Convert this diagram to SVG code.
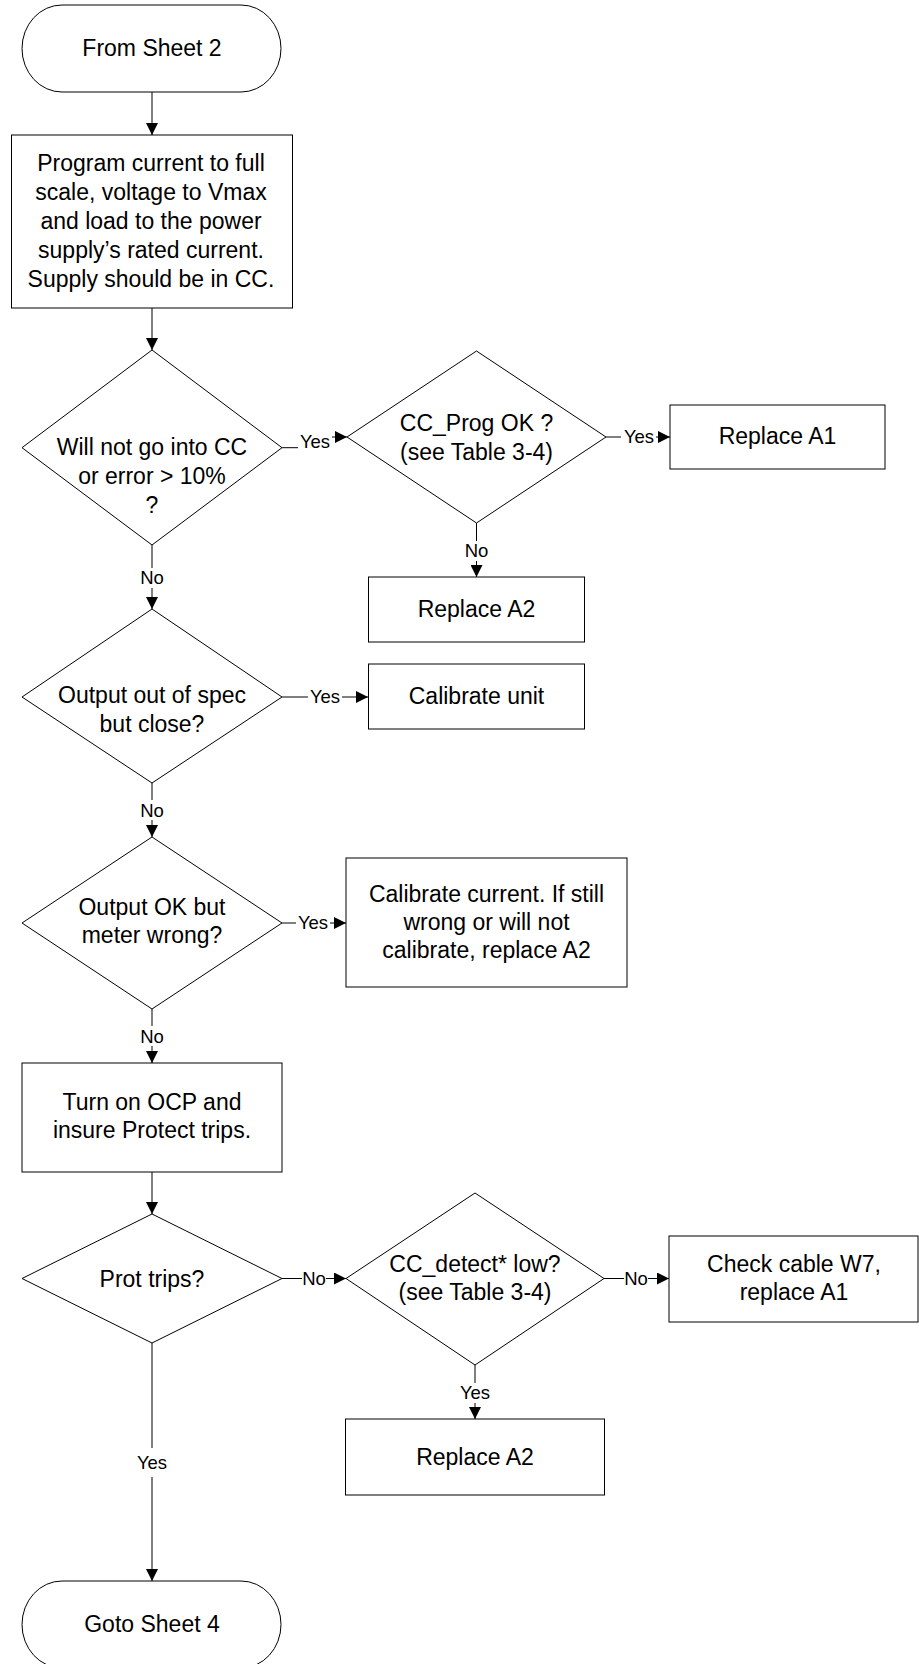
<svg xmlns="http://www.w3.org/2000/svg" width="919" height="1664" viewBox="0 0 919 1664">
<style>
.s{fill:#fff;stroke:#000;stroke-width:1}
.t{font-family:"Liberation Sans",Arial,sans-serif;font-size:23px;text-anchor:middle;fill:#000}
.l{font-family:"Liberation Sans",Arial,sans-serif;font-size:18.5px;text-anchor:middle;fill:#000}
.c{fill:none;stroke:#000;stroke-width:1;marker-end:url(#a)}
.bg{fill:#fff;stroke:none}
</style>
<defs>
<marker id="a" markerUnits="userSpaceOnUse" markerWidth="12" markerHeight="12" refX="12" refY="6" orient="auto">
<path d="M0,0 L12,6 L0,12 z" fill="#000"/>
</marker>
</defs>
<rect width="919" height="1664" fill="#fff"/>
<g id="connectors">
<path class="c" d="M152,92 V135"/>
<path class="c" d="M152,308 V350"/>
<path class="c" d="M282,447.7 H315 V437 H347"/>
<path class="c" d="M606,437 H670"/>
<path class="c" d="M476.5,523 V577"/>
<path class="c" d="M152,545 V609"/>
<path class="c" d="M282,697 H368"/>
<path class="c" d="M152,783 V837"/>
<path class="c" d="M282,923 H346"/>
<path class="c" d="M152,1009 V1063"/>
<path class="c" d="M152,1172 V1214"/>
<path class="c" d="M282,1278.5 H346"/>
<path class="c" d="M604,1278.5 H669"/>
<path class="c" d="M475,1365 V1419"/>
<path class="c" d="M152,1343 V1581"/>
<rect class="bg" x="298" y="432" width="34" height="19"/><text class="l" x="315" y="448">Yes</text>
<rect class="bg" x="621" y="428" width="35" height="19"/><text class="l" x="639" y="443.3">Yes</text>
<rect class="bg" x="465" y="541" width="23" height="20"/><text class="l" x="476.5" y="557.3">No</text>
<rect class="bg" x="141" y="568" width="23" height="20"/><text class="l" x="152" y="584">No</text>
<rect class="bg" x="308" y="687" width="34" height="19"/><text class="l" x="325" y="702.7">Yes</text>
<rect class="bg" x="141" y="800" width="23" height="20"/><text class="l" x="152" y="816.7">No</text>
<rect class="bg" x="296" y="913" width="34" height="19"/><text class="l" x="313" y="929.3">Yes</text>
<rect class="bg" x="141" y="1026" width="23" height="20"/><text class="l" x="152" y="1042.7">No</text>
<rect class="bg" x="302" y="1269" width="24" height="20"/><text class="l" x="314" y="1285">No</text>
<rect class="bg" x="624" y="1269" width="24" height="20"/><text class="l" x="636" y="1285">No</text>
<rect class="bg" x="458" y="1383" width="34" height="20"/><text class="l" x="475" y="1399.3">Yes</text>
<rect class="bg" x="134" y="1448" width="36" height="29"/><text class="l" x="152" y="1469">Yes</text>
</g>
<g id="start">
<rect class="s" x="22" y="5" width="259" height="87" rx="40" ry="43.5"/>
<text class="t" x="152" y="55.7">From Sheet 2</text>
</g>
<g id="program">
<rect class="s" x="11.5" y="135" width="281" height="173"/>
<text class="t" x="151" y="170.7">Program current to full</text>
<text class="t" x="151" y="199.7">scale, voltage to Vmax</text>
<text class="t" x="151" y="228.7">and load to the power</text>
<text class="t" x="151" y="257.7">supply’s rated current.</text>
<text class="t" x="151" y="286.7">Supply should be in CC.</text>
</g>
<g id="d1">
<polygon class="s" points="152,350 282,447.7 152,545 22,447.7"/>
<text class="t" x="152" y="455">Will not go into CC</text>
<text class="t" x="152" y="484">or error &gt; 10%</text>
<text class="t" x="152" y="512.7">?</text>
</g>
<g id="d2">
<polygon class="s" points="476.5,351 606,437 476.5,523 347,437"/>
<text class="t" x="476.5" y="431">CC_Prog OK ?</text>
<text class="t" x="476.5" y="459.5">(see Table 3-4)</text>
</g>
<g id="replaceA1">
<rect class="s" x="670" y="405" width="215" height="64"/>
<text class="t" x="777.5" y="444">Replace A1</text>
</g>
<g id="replaceA2a">
<rect class="s" x="368.5" y="577" width="216" height="65"/>
<text class="t" x="476.5" y="617">Replace A2</text>
</g>
<g id="d3">
<polygon class="s" points="152,609 282,697 152,783 22,697"/>
<text class="t" x="152" y="703.3">Output out of spec</text>
<text class="t" x="152" y="731.7">but close?</text>
</g>
<g id="calUnit">
<rect class="s" x="368.5" y="664" width="216" height="65"/>
<text class="t" x="476.5" y="704">Calibrate unit</text>
</g>
<g id="d4">
<polygon class="s" points="152,837 282,923 152,1009 22,923"/>
<text class="t" x="152" y="915">Output OK but</text>
<text class="t" x="152" y="943.3">meter wrong?</text>
</g>
<g id="calCurrent">
<rect class="s" x="346" y="858" width="281" height="129"/>
<text class="t" x="486.5" y="901.7">Calibrate current. If still</text>
<text class="t" x="486.5" y="930">wrong or will not</text>
<text class="t" x="486.5" y="958.3">calibrate, replace A2</text>
</g>
<g id="ocp">
<rect class="s" x="22" y="1063" width="260" height="109"/>
<text class="t" x="152" y="1110">Turn on OCP and</text>
<text class="t" x="152" y="1138.3">insure Protect trips.</text>
</g>
<g id="d5">
<polygon class="s" points="152,1214 282,1278.5 152,1343 22,1278.5"/>
<text class="t" x="152" y="1286.7">Prot trips?</text>
</g>
<g id="d6">
<polygon class="s" points="475,1193 604,1278.5 475,1365 346,1278.5"/>
<text class="t" x="475" y="1271.7">CC_detect* low?</text>
<text class="t" x="475" y="1300">(see Table 3-4)</text>
</g>
<g id="checkCable">
<rect class="s" x="669" y="1236" width="249" height="86"/>
<text class="t" x="794" y="1271.7">Check cable W7,</text>
<text class="t" x="794" y="1300">replace A1</text>
</g>
<g id="replaceA2b">
<rect class="s" x="345.5" y="1419" width="259" height="76"/>
<text class="t" x="475" y="1465">Replace A2</text>
</g>
<g id="end">
<rect class="s" x="22" y="1581" width="259" height="87" rx="40" ry="43.5"/>
<text class="t" x="152" y="1632">Goto Sheet 4</text>
</g>
</svg>
